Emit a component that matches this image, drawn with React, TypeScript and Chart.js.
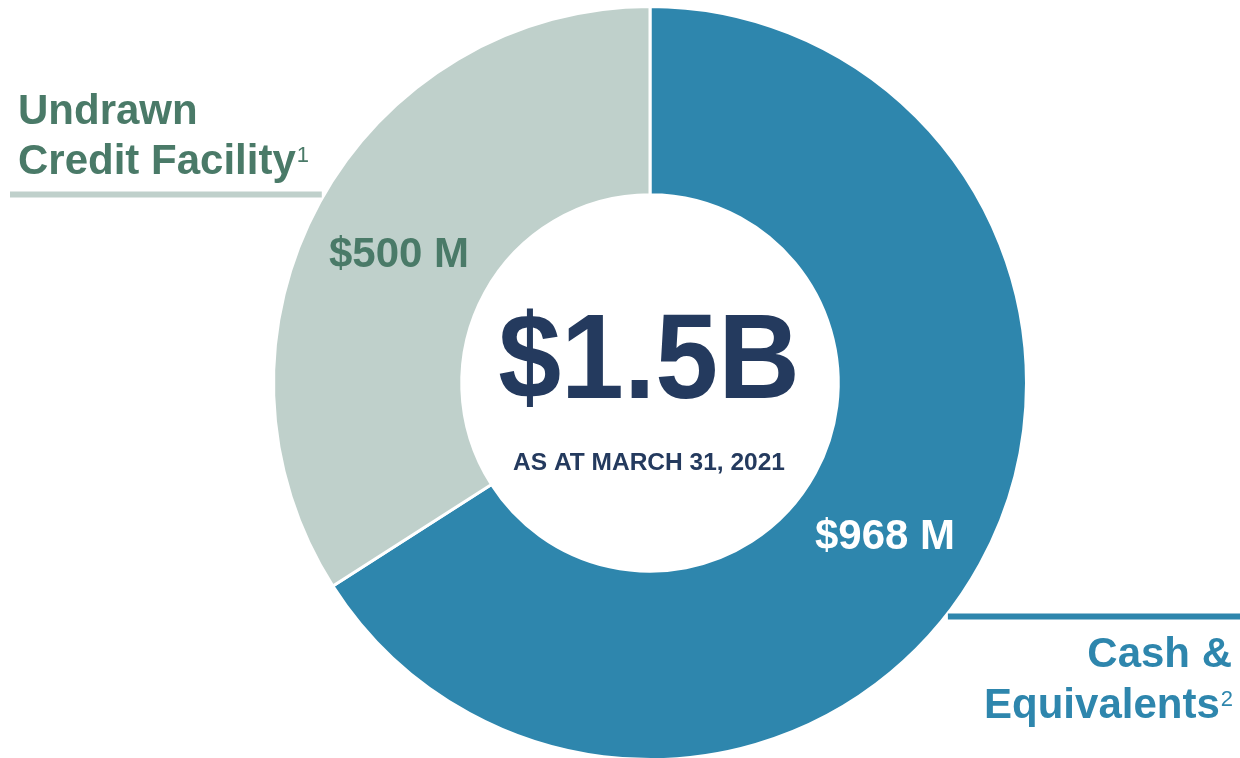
import React, { useEffect, useRef } from "react";
import { Chart, registerables } from "chart.js";

Chart.register(...registerables);

const categories = ["Cash & Equivalents", "Undrawn Credit Facility"];
const values = [968, 500];
const colors = ["#2E86AD", "#BFD0CB"];
const labelColors = ["#2E86AD", "#4A7A68"];
const footnotes = ["2", "1"];
const asAtText = "AS AT MARCH 31, 2021";

const NAVY = "#243A5E";
const FONT = "'Liberation Sans', Arial, sans-serif";

const overlayPlugin = {
  id: "overlay",
  afterDraw(chart: any) {
    const ctx = chart.ctx as CanvasRenderingContext2D;
    const meta = chart.getDatasetMeta(0);
    const arc = meta.data[0] as any;
    const cx = arc.x;
    const cy = arc.y;
    const R = arc.outerRadius + 2;
    const total = values.reduce((a, b) => a + b, 0);

    ctx.save();
    // leader lines
    const edgeX = (y: number) => Math.sqrt(Math.max(R * R - (y - cy) * (y - cy), 0));
    ctx.lineWidth = 6;
    ctx.strokeStyle = colors[1];
    const y1 = 194.5;
    ctx.beginPath();
    ctx.moveTo(10, y1);
    ctx.lineTo(cx - edgeX(y1), y1);
    ctx.stroke();
    ctx.strokeStyle = colors[0];
    const y2 = 616.5;
    ctx.beginPath();
    ctx.moveTo(cx + edgeX(y2), y2);
    ctx.lineTo(1240, y2);
    ctx.stroke();

    // center text
    ctx.fillStyle = NAVY;
    ctx.textAlign = "center";
    ctx.textBaseline = "alphabetic";
    ctx.save();
    ctx.translate(cx - 1, 398);
    ctx.scale(1, 1.06);
    ctx.font = `bold 113px ${FONT}`;
    ctx.fillText(`$${(total / 1000).toFixed(1)}B`, 0, 0);
    ctx.restore();
    ctx.font = `bold 24.5px ${FONT}`;
    ctx.fillText(asAtText, cx - 1, 470);

    // value labels
    ctx.textAlign = "left";
    ctx.font = `bold 42px ${FONT}`;
    ctx.fillStyle = "#FFFFFF";
    ctx.fillText(`$${values[0]} M`, 815, 549);
    ctx.fillStyle = labelColors[1];
    ctx.fillText(`$${values[1]} M`, 329, 267);

    // category label: Undrawn Credit Facility
    const undrawnWords = categories[1].split(" ");
    const l1 = undrawnWords[0];
    const l2 = undrawnWords.slice(1).join(" ");
    ctx.font = `bold 42px ${FONT}`;
    ctx.fillStyle = labelColors[1];
    ctx.fillText(l1, 18, 124);
    ctx.fillText(l2, 18, 174);
    const w2 = ctx.measureText(l2).width;
    ctx.font = `22px ${FONT}`;
    ctx.fillText(footnotes[1], 18 + w2 + 1, 162);

    // category label: Cash & Equivalents
    const cashWords = categories[0].split(" ");
    const c1 = cashWords.slice(0, 2).join(" ");
    const c2 = cashWords.slice(2).join(" ");
    ctx.fillStyle = labelColors[0];
    ctx.textAlign = "right";
    ctx.font = `bold 42px ${FONT}`;
    ctx.fillText(c1, 1232, 667);
    ctx.font = `22px ${FONT}`;
    const fw = ctx.measureText(footnotes[0]).width;
    ctx.fillText(footnotes[0], 1233, 706);
    ctx.font = `bold 42px ${FONT}`;
    ctx.fillText(c2, 1233 - fw - 1, 718);
    ctx.restore();
  },
};

export default function App() {
  const canvasRef = useRef<HTMLCanvasElement | null>(null);

  useEffect(() => {
    if (!canvasRef.current) return;
    const chart = new Chart(canvasRef.current, {
      type: "doughnut",
      data: {
        labels: categories,
        datasets: [
          {
            data: values,
            backgroundColor: colors,
            borderColor: "#FFFFFF",
            borderWidth: 3,
            hoverOffset: 0,
          },
        ],
      },
      options: {
        responsive: false,
        maintainAspectRatio: false,
        animation: false,
        devicePixelRatio: 1,
        cutout: "50%",
        layout: { padding: { left: 272, right: 212, top: 5, bottom: 9 } },
        plugins: {
          legend: { display: false },
          tooltip: { enabled: false },
        },
      },
      plugins: [overlayPlugin],
    });
    return () => chart.destroy();
  }, []);

  return (
    <div
      style={{
        position: "fixed",
        left: 0,
        top: 0,
        width: 1240,
        height: 758,
        overflow: "hidden",
        background: "#FFFFFF",
      }}
    >
      <canvas ref={canvasRef} width={1240} height={770} style={{ display: "block" }} />
    </div>
  );
}
